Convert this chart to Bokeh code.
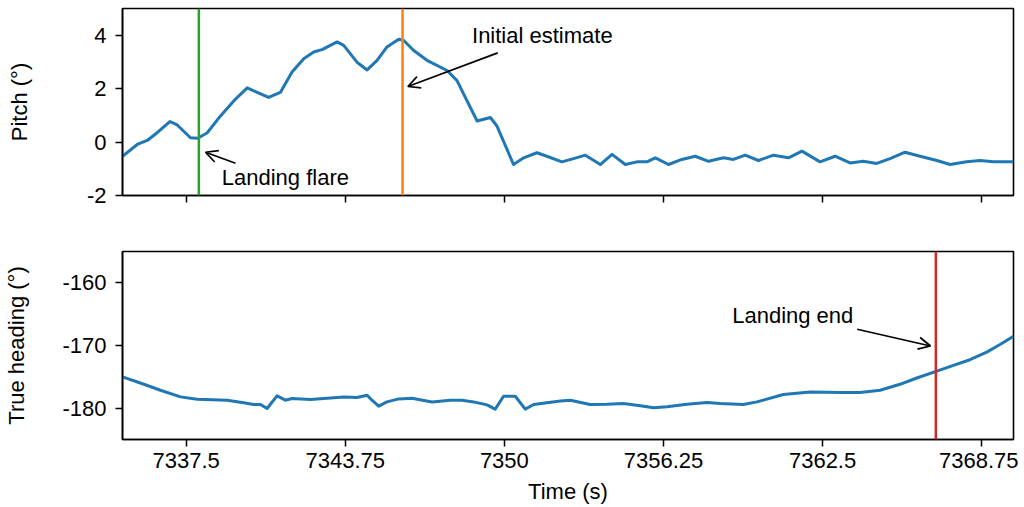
from bokeh.plotting import figure
from bokeh.layouts import column
from bokeh.models import Span, Arrow, OpenHead, Label, FixedTicker, Range1d
from bokeh.embed import file_html
from bokeh.resources import INLINE

# ---- data ----
pitch_t = [7335.0, 7335.58, 7335.97, 7336.36, 7336.86, 7337.15, 7337.67, 7337.96, 7338.33, 7338.85,
           7339.44, 7339.90, 7340.29, 7340.74, 7341.20, 7341.66, 7342.12, 7342.51, 7342.84, 7343.43,
           7343.69, 7344.21, 7344.61, 7345.00, 7345.39, 7345.85, 7346.04, 7346.44, 7346.96, 7347.75,
           7348.14, 7348.53, 7348.93, 7349.45, 7349.71, 7350.36, 7350.76, 7351.28, 7351.67, 7352.26,
           7352.72, 7353.18, 7353.77, 7354.23, 7354.75, 7355.21, 7355.60, 7355.93, 7356.45, 7356.97,
           7357.50, 7358.02, 7358.61, 7359.00, 7359.46, 7359.98, 7360.57, 7361.16, 7361.69, 7362.40,
           7362.99, 7363.58, 7364.10, 7364.63, 7365.15, 7365.74, 7366.33, 7366.99, 7367.51, 7368.16,
           7368.69, 7369.21, 7370.0]
pitch = [-0.53, -0.09, 0.06, 0.35, 0.77, 0.64, 0.16, 0.14, 0.35, 0.98,
         1.61, 2.03, 1.86, 1.67, 1.86, 2.62, 3.12, 3.37, 3.46, 3.75,
         3.62, 2.99, 2.70, 3.06, 3.56, 3.85, 3.81, 3.43, 3.06, 2.68,
         2.30, 1.55, 0.79, 0.92, 0.60, -0.84, -0.59, -0.40, -0.53, -0.74,
         -0.62, -0.49, -0.84, -0.46, -0.84, -0.74, -0.74, -0.59, -0.84, -0.65,
         -0.53, -0.72, -0.59, -0.65, -0.49, -0.69, -0.49, -0.59, -0.34, -0.74,
         -0.53, -0.78, -0.72, -0.80, -0.62, -0.38, -0.53, -0.69, -0.84, -0.74,
         -0.69, -0.74, -0.74]

head_t = [7335.0, 7335.84, 7336.49, 7337.28, 7337.93, 7339.11, 7339.76, 7340.15, 7340.42, 7340.68,
          7341.07, 7341.40, 7341.66, 7342.38, 7343.04, 7343.69, 7344.21, 7344.61, 7344.80, 7345.06,
          7345.39, 7345.85, 7346.37, 7347.16, 7347.88, 7348.34, 7348.79, 7349.32, 7349.64, 7349.97,
          7350.43, 7350.82, 7351.15, 7351.67, 7352.20, 7352.59, 7353.37, 7354.03, 7354.68, 7355.34,
          7355.86, 7356.39, 7357.17, 7357.96, 7358.48, 7359.39, 7359.92, 7360.96, 7362.01, 7363.19,
          7363.97, 7364.76, 7365.54, 7366.20, 7366.96, 7367.64, 7368.29, 7368.95, 7369.47, 7370.0]
heading = [-175.0, -176.19, -177.14, -178.2, -178.57, -178.73, -179.15, -179.42, -179.42, -180.05,
           -178.04, -178.73, -178.46, -178.62, -178.41, -178.2, -178.3, -177.94, -178.73, -179.68,
           -179.0, -178.52, -178.41, -179.0, -178.73, -178.73, -179.0, -179.47, -180.16, -178.1,
           -178.1, -180.16, -179.42, -179.15, -178.84, -178.73, -179.42, -179.37, -179.26, -179.63,
           -179.95, -179.79, -179.37, -179.1, -179.26, -179.42, -179.0, -177.83, -177.41, -177.51,
           -177.51, -177.14, -176.19, -175.19, -174.13, -173.17, -172.27, -171.06, -169.84, -168.52]

x_ticks = [7337.5, 7343.75, 7350, 7356.25, 7362.5, 7368.75]
x_tick_labels = ["7337.5", "7343.75", "7350", "7356.25", "7362.5", "7368.75"]
pitch_ticks = [-2, 0, 2, 4]
pitch_tick_labels = ["-2", "0", "2", "4"]
head_ticks = [-180, -170, -160]
head_tick_labels = ["-180", "-170", "-160"]

flare_t = 7338.0
estimate_t = 7346.0
end_t = 7366.95

FONT = "Liberation Sans"
FS = "22px"
BLUE = "#1f77b4"


def style(p):
    p.grid.visible = False
    p.outline_line_color = "black"
    p.outline_line_width = 1.6
    p.outline_line_alpha = 1.0
    for ax in p.xaxis + p.yaxis:
        ax.axis_line_color = "black"
        ax.axis_line_width = 1.6
        ax.major_tick_line_color = "black"
        ax.major_tick_line_width = 1.5
        ax.major_tick_in = 0
        ax.major_tick_out = 7
        ax.minor_tick_line_color = None
        ax.major_label_text_font = FONT
        ax.major_label_text_font_size = FS
        ax.major_label_text_color = "black"
        ax.axis_label_text_font = FONT
        ax.axis_label_text_font_size = FS
        ax.axis_label_text_font_style = "normal"
        ax.axis_label_text_color = "black"
    p.yaxis.major_label_standoff = 9
    p.xaxis.major_label_standoff = 6


p1 = figure(width=1018, height=250, x_range=Range1d(7335, 7370), y_range=Range1d(-2, 5),
            output_backend="svg", toolbar_location=None,
            min_border_left=122, min_border_right=5, min_border_top=8, min_border_bottom=55)
style(p1)
p1.xaxis.ticker = FixedTicker(ticks=x_ticks)
p1.xaxis.major_label_overrides = {t: "" for t in x_ticks}
p1.yaxis.ticker = FixedTicker(ticks=pitch_ticks)
p1.yaxis.major_label_overrides = dict(zip(pitch_ticks, pitch_tick_labels))
p1.yaxis.axis_label = "Pitch (°)"
p1.yaxis.axis_label_standoff = 52

p1.line(pitch_t, pitch, line_color=BLUE, line_width=3, line_join="round")
p1.add_layout(Span(location=flare_t, dimension="height", line_color="#2ca02c", line_width=2.5))
p1.add_layout(Span(location=estimate_t, dimension="height", line_color="#ff7f0e", line_width=2.5))
p1.add_layout(Arrow(end=OpenHead(size=12, line_width=1.7, line_color="black"),
                    x_start=7339.44, y_start=-0.79, x_end=7338.26, y_end=-0.38,
                    line_width=1.7, line_color="black"))
p1.add_layout(Label(x=7338.9, y=-1.32, text="Landing flare", text_font=FONT, text_font_size=FS,
                    text_baseline="middle", text_align="left", text_color="black"))
p1.add_layout(Arrow(end=OpenHead(size=12, line_width=1.7, line_color="black"),
                    x_start=7349.74, y_start=3.34, x_end=7346.21, y_end=2.08,
                    line_width=1.7, line_color="black"))
p1.add_layout(Label(x=7348.73, y=4.0, text="Initial estimate", text_font=FONT, text_font_size=FS,
                    text_baseline="middle", text_align="left", text_color="black"))

p2 = figure(width=1018, height=256, x_range=p1.x_range, y_range=Range1d(-185, -155),
            output_backend="svg", toolbar_location=None,
            min_border_left=122, min_border_right=5, min_border_top=1, min_border_bottom=62)
style(p2)
p2.xaxis.ticker = FixedTicker(ticks=x_ticks)
p2.xaxis.major_label_overrides = dict(zip(x_ticks, x_tick_labels))
p2.xaxis.axis_label = "Time (s)"
p2.xaxis.axis_label_standoff = 8
p2.yaxis.ticker = FixedTicker(ticks=head_ticks)
p2.yaxis.major_label_overrides = dict(zip(head_ticks, head_tick_labels))
p2.yaxis.axis_label = "True heading (°)"
p2.yaxis.axis_label_standoff = 30

p2.line(head_t, heading, line_color=BLUE, line_width=3, line_join="round")
p2.add_layout(Span(location=end_t, dimension="height", line_color="#d62728", line_width=2.5))
p2.add_layout(Arrow(end=OpenHead(size=12, line_width=1.7, line_color="black"),
                    x_start=7363.86, y_start=-167.4, x_end=7366.74, y_end=-170.08,
                    line_width=1.7, line_color="black"))
p2.add_layout(Label(x=7358.95, y=-165.26, text="Landing end", text_font=FONT, text_font_size=FS,
                    text_baseline="middle", text_align="left", text_color="black"))

layout = column(p1, p2, spacing=0)
open("out.html", "w").write(file_html(layout, INLINE))
